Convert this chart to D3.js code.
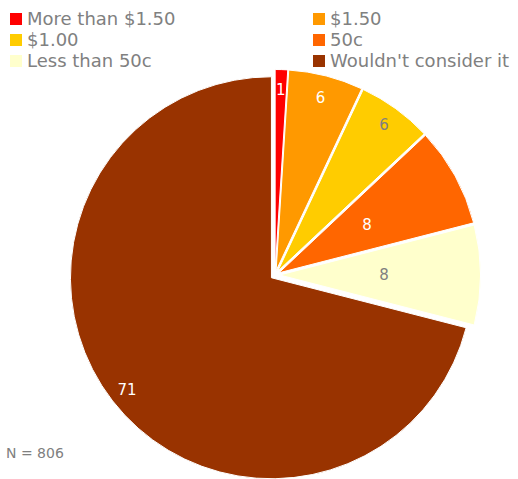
<!DOCTYPE html>
<html>
<head>
<meta charset="utf-8">
<script src="https://cdn.jsdelivr.net/npm/d3@7"></script>
<style>
  body { margin: 0; background: #fff; }
  svg { font-family: "DejaVu Sans", Verdana, sans-serif; }
</style>
</head>
<body>
<svg width="518" height="479"></svg>
<script>
var categories = ["More than $1.50", "$1.50", "$1.00", "50c", "Less than 50c", "Wouldn't consider it"];
var values = [1, 6, 6, 8, 8, 71];
var colors = ["#FF0000", "#FF9900", "#FFCC00", "#FF6600", "#FFFFCC", "#993300"];
var note = "N = 806";

// where each label sits, as share of the radius, and its colour
var labelPos = [0.9, 0.89, 0.9, 0.5, 0.52, 0.91];
var labelColor = ["#fff", "#fff", "#808080", "#fff", "#808080", "#fff"];

const svg = d3.select('svg');
const cx = 275, cy = 275, r = 201, explode = 4.5;

const pie = d3.pie().sort(null).value(d => d);
const arcs = pie(values);
const arc = d3.arc().innerRadius(0).outerRadius(r);

const slices = svg.append('g')
  .attr('transform', `translate(${cx}, ${cy})`)
  .selectAll('g')
  .data(arcs)
  .enter()
  .append('g')
  .attr('transform', d => {
    const a = (d.startAngle + d.endAngle) / 2;
    return `translate(${explode * Math.sin(a)}, ${-explode * Math.cos(a)})`;
  });

slices.append('path')
  .attr('d', arc)
  .attr('fill', (d, i) => colors[i])
  .attr('stroke', '#fff')
  .attr('stroke-width', 1);

slices.append('text')
  .attr('x', (d, i) => r * labelPos[i] * Math.sin((d.startAngle + d.endAngle) / 2))
  .attr('y', (d, i) => -r * labelPos[i] * Math.cos((d.startAngle + d.endAngle) / 2))
  .attr('dy', '0.35em')
  .attr('text-anchor', 'middle')
  .attr('font-size', 15)
  .attr('fill', (d, i) => labelColor[i])
  .text(d => d.data);

// legend, two columns
const legend = svg.append('g')
  .selectAll('g')
  .data(categories)
  .enter()
  .append('g')
  .attr('transform', (d, i) => `translate(${i % 2 ? 313 : 10}, ${19 + Math.floor(i / 2) * 21})`);

legend.append('rect')
  .attr('x', 0)
  .attr('y', -6)
  .attr('width', 12)
  .attr('height', 12)
  .attr('fill', (d, i) => colors[i]);

legend.append('text')
  .attr('x', 17)
  .attr('dy', '0.35em')
  .attr('font-size', 18)
  .attr('fill', '#808080')
  .text(d => d);

svg.append('text')
  .attr('x', 6)
  .attr('y', 458)
  .attr('font-size', 14)
  .attr('fill', '#808080')
  .text(note);
</script>
</body>
</html>
